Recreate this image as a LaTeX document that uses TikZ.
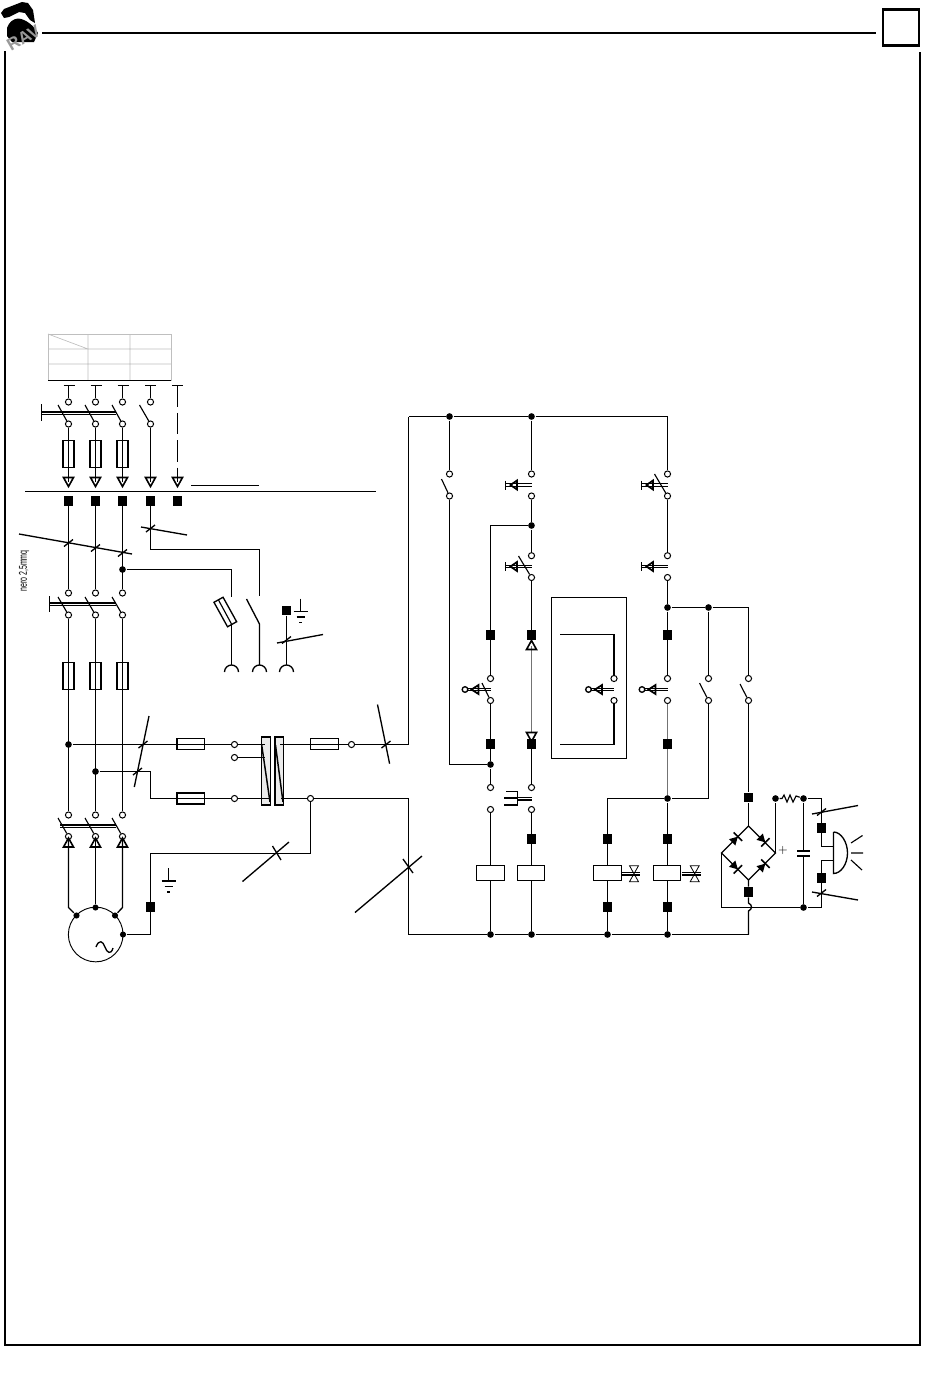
\documentclass[tikz,border=0pt]{standalone}
\usepackage{fontspec}
\setsansfont{Liberation Sans}
\usetikzlibrary{positioning}
\tikzset{
pics/btnbar/.style = {code = {
  \draw (-26,-1.2) -- (0,-1.2) (-26,1.2) -- (0,1.2) (-26,-4.5) -- (-26,4.5);
  \draw[line width = 1.3pt] (-14.5,-4.5) -- (-21,0) -- (-14.5,4.5) -- cycle;}},
pics/btncirc/.style = {code = {
  \draw (-23,-1.2) -- (0,-1.2) (-23,1.2) -- (0,1.2);
  \draw[fill = white] (-25.5,0) circle (2.8);
  \draw[line width = 1.3pt] (-12,-4.5) -- (-19,0) -- (-12,4.5) -- cycle;}},
pics/earth/.style = {code = {
  \draw (0,-13) -- (0,0) (-7,0) -- (7,0) (-4,5.5) -- (4,5.5) (-1.5,11) -- (1.5,11);}},
pics/valve/.style = {code = {
  \draw (-13,-1.2) -- (6,-1.2) (-13,1.2) -- (6,1.2);
  \draw[line width = .6pt] (-4.5,-8) -- (4.5,-8) -- (-4.5,8) -- (4.5,8) -- cycle;}},
pics/diode/.style = {code = {
  \fill (-4,-4.5) -- (4,0) -- (-4,4.5) -- cycle;
  \draw[line width = 1.2pt] (4,-6) -- (4,6);}},
pics/arrowdown/.style = {code = {
  \draw[line width = 1.2pt] (-5,-4.5) -- (5,-4.5) -- (0,4.5) -- cycle;}},
pics/arrowup/.style = {code = {
  \draw[line width = 1.2pt] (-5,4.5) -- (5,4.5) -- (0,-4.5) -- cycle;}}
}
\begin{document}
\begin{tikzpicture}[x = .75pt, y = -.75pt, line width = 1pt,
term/.style = { circle, draw, fill = white, inner sep = 0pt, line width = .75pt, minimum size = 4.6pt },
blob/.style = { circle, fill = black, inner sep = 0pt, minimum size = 5pt },
sq/.style = { rectangle, fill = black, inner sep = 0pt, minimum size = 6.9pt },
fusev/.style = { rectangle, draw, inner sep = 0pt, minimum width = 8.4pt, minimum height = 20.6pt },
fuseh/.style = { rectangle, draw, inner sep = 0pt, minimum width = 20.6pt, minimum height = 8.4pt },
coil/.style = { rectangle, draw, fill = white, inner sep = 0pt, minimum width = 20.6pt, minimum height = 10.8pt },
contact/.style = { rectangle, draw, fill = black!8, inner sep = 0pt, minimum width = 6.4pt, minimum height = 51pt },
blade/.style = { line width = .85pt },
gridline/.style = { color = black!25, line width = .5pt },
greywire/.style = { color = black!55, line width = 1.15pt },
frameline/.style = { line width = 1.6pt }]
\useasboundingbox (0,0) rectangle (950,1378);
% header and frame
\draw[frameline] (42,33) -- (876,33);
\node[rectangle, draw, line width = 2.2pt, inner sep = 0pt, minimum size = 27pt] (pagebox) at (901,27.5) {};
\draw[frameline] (920,52) -- (920,1345) -- (5,1345) -- (5,51);
\fill (1,13) -- (4,9) -- (22,2) -- (28,3) -- (33,10) -- (35,23) -- (30,20) -- (25,13) -- (19,12) -- (9,17) -- (4,18) -- cycle;
\fill (7,36) -- (7,28) .. controls (9,22) and (13,19) .. (18,18.5) .. controls (26,19) and (34,26) .. (38,33) -- (34,42) -- (12,42) -- cycle;
\node[rotate = 30, font = \sffamily\bfseries\fontsize{13}{13}\selectfont, text = black!40, inner sep = 0pt] (logotext) at (23.5,38) {RAV};
% top table
\draw[gridline] (48,334) rectangle (171,380);
\draw[gridline] (48,349) -- (171,349) (48,364) -- (171,364) (88,334) -- (88,380) (130,334) -- (130,380) (48,334) -- (88,349);
\draw (48,380.5) -- (171,380.5);
\draw (25,491.5) -- (376,491.5);
\draw (191,485.5) -- (259,485.5);
% line 1 and line 2 phases
\foreach \x/\n in {68.5/a,95.5/b,122.5/c} {
\node[term] (up\n) at (\x,402) {};
\node[term] (uq\n) at (\x,424) {};
\node[fusev] (uf\n) at (\x,454) {};
\coordinate (ua\n) at (\x,482);
\node[sq] (us\n) at (\x,501) {};
\node[term] (mp\n) at (\x,593) {};
\node[term] (mq\n) at (\x,615) {};
\node[fusev] (mf\n) at (\x,676) {};
\node[term] (lp\n) at (\x,815) {};
\node[term] (lq\n) at (\x,836.5) {};
\coordinate (la\n) at (\x,842.5);
\draw (\x-5,385.5) -- (\x+6,385.5);
\draw (\x,385.5) -- (up\n);
\draw (uq\n) -- (ua\n);
\pic at (ua\n) {arrowdown};
\draw (us\n) -- (mp\n);
\draw (mq\n) -- (lp\n);
\draw[blade] (\x-10.5,405) -- (uq\n);
\draw[blade] (\x-10.5,597) -- (mq\n);
\draw[blade] (\x-10.5,818) -- (lq\n);
\pic at (la\n) {arrowup};
}
% fourth and fifth pole
\node[term] (upd) at (150.5,402) {};
\node[term] (uqd) at (150.5,424) {};
\coordinate (uad) at (150.5,482);
\node[sq] (usd) at (150.5,501) {};
\draw (145,385.5) -- (156,385.5) (150.5,385.5) -- (upd);
\draw (uqd) -- (uad);
\draw[blade] (139.5,405) -- (uqd);
\pic at (uad) {arrowdown};
\coordinate (uae) at (177.5,482);
\node[sq] (use) at (177.5,501) {};
\draw (172,385.5) -- (183,385.5);
\draw[dash pattern = on 16pt off 4.5pt] (177.5,385.5) -- (uae);
\pic at (uae) {arrowdown};
% ganged bars
\draw (41.5,404) -- (41.5,421) (41.5,412) -- (116,412) (41.5,414.5) -- (116,414.5);
\draw (49.5,596) -- (49.5,612) (49.5,603) -- (116,603) (49.5,605.5) -- (116,605.5);
\draw (60,825) -- (116,825) (60,827.5) -- (116,827.5);
% sense wires
\draw (19,534) -- (132,554);
\draw (141,527) -- (187,535);
\foreach \x/\y in {68.5/543,95.5/548,122.5/553,150.5/528.5,143/744.5,137.5/771.5,286.5/640,821.5/812,821.5/893,386/744.5} {
\draw (\x-4.5,\y+3.5) -- (\x+4.5,\y-3.5);
}
\node[rotate = 90, font = \sffamily\fontsize{8.5}{8.5}\selectfont, inner sep = 0pt] (wirelabel) at (24,571) {\scalebox{.62}[1]{nero 2,5mmq}};
\node[blob] (jc) at (122.5,569.5) {};
\coordinate (pa) at (231.5,597);
\coordinate (pb) at (259.5,596);
\draw (jc) -- (pa |- jc) -- (pa);
\draw (usd) -- (150.5,549.5) -- (259.5,549.5) -- (pb);
% socket group
\node[rectangle, draw, rotate = 29, inner sep = 0pt, minimum width = 7.8pt, minimum height = 21pt] (sockfuse) at (225.3,612) {};
\draw[blade] (218.5,600) -- (231.5,624);
\coordinate (sa) at (231.5,665);
\coordinate (sb) at (259.5,665);
\coordinate (sc) at (286.5,665);
\draw (231.5,624) -- (sa);
\draw (246.5,599) -- (259.5,624) -- (sb);
\node[sq] (se) at (286.5,610.5) {};
\draw (se) -- (sc);
\draw (277,643) -- (323,634.5);
\pic at (300.5,611.5) {earth};
\foreach \c in {sa,sb,sc} {
\draw ([xshift = -5.25pt, yshift = -5.25pt]\c) arc[start angle = 180, end angle = 360, radius = 7];
}
% supply to contactor
\node[blob] (ja) at (68.5,744.5) {};
\node[blob] (jb) at (95.5,771.5) {};
\node[fuseh] (fa) at (190.7,744) {};
\node[fuseh] (fb) at (190.7,798.5) {};
\node[term] (ca) at (234.5,744.5) {};
\node[term] (cb) at (234.5,757.5) {};
\node[term] (cc) at (234.5,798.5) {};
\node[contact] (kma) at (266,771) {};
\node[contact] (kmb) at (279.4,771) {};
\draw (ja) -- (ca);
\draw (ca) -- (265,744.5);
\draw (cb) -- (265,757.5);
\draw (jb) -- (150.5,771.5) -- (150.5,798.5) -- (cc);
\draw (cc) -- (270,798.5);
\draw (149,716) -- (134.3,787);
\draw[line width = 1.1pt] (261.7,745) -- (270,802);
\draw[line width = 1.1pt] (275.5,745) -- (283,802);
\node[fuseh] (fc) at (324.5,744) {};
\node[term] (cd) at (351.5,744.5) {};
\node[term] (ce) at (310.5,798.5) {};
\draw (280,744.5) -- (cd);
\draw (cd) -- (408.5,744.5) -- (408.5,416.5);
\draw (281,798.5) -- (ce);
\draw (ce) -- (408.5,798.5) -- (408.5,934.5);
\draw (377.5,704.5) -- (389.6,763.7);
% generator
\node[circle, draw, inner sep = 0pt, minimum size = 41pt, line width = .7pt] (gen) at (95.7,934.5) {};
\node[blob, minimum size = 4.6pt] (ga) at (76.5,915.5) {};
\node[blob, minimum size = 4.6pt] (gb) at (95.5,907.5) {};
\node[blob, minimum size = 4.6pt] (gc) at (115,915.5) {};
\node[blob, minimum size = 4.6pt] (gd) at (123,934.5) {};
\draw (lqa) -- (68.5,907.5) -- (ga);
\draw (lqb) -- (gb);
\draw (lqc) -- (122.5,907.5) -- (gc);
\node[sq] (sg) at (150.5,907) {};
\draw (gd) -- (150.5,934.5) -- (sg);
\draw (sg) -- (150.5,853.5) -- (310.5,853.5) -- (ce);
\draw (96,947) .. controls (99,939) and (103,941) .. (105,947) .. controls (107,953) and (111,955) .. (113,948);
\draw (242.5,881.5) -- (289,842);
\draw (272.5,846) -- (281,860);
\draw (355,912.5) -- (422,856);
\draw (403,859) -- (413,873);
\pic at (168.5,881) {earth};
% control rail
\node[blob] (ra) at (449.5,416.5) {};
\node[blob] (rb) at (531.5,416.5) {};
\draw (408.5,416.5) -- (ra) -- (rb) -- (667.5,416.5);
\node[term] (pa1) at (449.5,474) {};
\node[term] (pa2) at (449.5,496) {};
\node[blob] (rc) at (490.5,764.5) {};
\draw (ra) -- (pa1);
\draw[blade] (441.5,479) -- (pa2);
\draw (pa2) -- (449.5,764.5) -- (rc);
\node[term] (pb1) at (531.5,474) {};
\node[term] (pb2) at (531.5,496) {};
\node[blob] (rd) at (531.5,525.5) {};
\node[term] (pb3) at (531.5,555.7) {};
\node[term] (pb4) at (531.5,577.5) {};
\node[sq] (sb1) at (531.5,635) {};
\node[sq] (sb2) at (531.5,744) {};
\node[term] (pb5) at (531.5,787.5) {};
\node[term] (pb6) at (531.5,809.5) {};
\node[sq] (sb3) at (531.5,839) {};
\node[coil, minimum width = 20.2pt] (kb) at (531,873) {};
\node[blob] (eb) at (531.5,934.5) {};
\draw (rb) -- (pb1) (pb2) -- (rd) -- (pb3) (pb4) -- (sb1);
\draw[blade] (518.5,556) -- (pb4);
\pic at (531.5,485) {btnbar};
\pic at (531.5,566.5) {btnbar};
\draw[greywire] (531.5,646) -- (531.5,733);
\pic at (531.5,645) {arrowup};
\pic at (531.5,737) {arrowdown};
\draw (sb2) -- (pb5) (pb6) -- (sb3) -- (531.5,866) (531.5,880) -- (eb);
\draw (517.5,797.5) -- (531.5,797.5) (517.5,800) -- (531.5,800);
\draw (506,791.5) -- (517.5,791.5) -- (517.5,805) -- (504,805) (504,798) -- (517.5,798);
% holding column
\node[sq] (sa1) at (490.5,635) {};
\node[term] (pc1) at (490.5,678.5) {};
\node[term] (pc2) at (490.5,700.5) {};
\node[sq] (sa2) at (490.5,744) {};
\node[term] (pc3) at (490.5,787.5) {};
\node[term] (pc4) at (490.5,809.5) {};
\node[coil] (ka) at (490.5,873) {};
\node[blob] (ea) at (490.5,934.5) {};
\draw (rd) -- (490.5,525.5) -- (sa1) -- (pc1) (pc2) -- (sa2) -- (rc) -- (pc3) (pc4) -- (ka) -- (ea);
\draw[blade] (482,683) -- (pc2);
\pic at (490.5,689.5) {btncirc};
% boxed remote button
\node[rectangle, draw, inner sep = 0pt, minimum width = 56.3pt, minimum height = 120.8pt] (remote) at (589.2,677.8) {};
\node[term] (pd1) at (614,678.5) {};
\node[term] (pd2) at (614,700.5) {};
\draw (560,634.5) -- (614,634.5) -- (pd1);
\draw (pd2) -- (614,744.5) -- (560,744.5);
\pic at (614,689.5) {btncirc};
% right column
\node[term] (pe1) at (667.5,474) {};
\node[term] (pe2) at (667.5,496) {};
\node[term] (pe3) at (667.5,555.7) {};
\node[term] (pe4) at (667.5,577.5) {};
\node[blob] (re) at (667.5,607.5) {};
\node[sq] (se1) at (667.5,635) {};
\node[term] (pe5) at (667.5,678.5) {};
\node[term] (pe6) at (667.5,700.5) {};
\node[sq] (se2) at (667.5,744) {};
\node[blob] (rf) at (667.5,798.5) {};
\node[sq] (se3) at (667.5,839) {};
\node[coil] (kc) at (667,873) {};
\node[sq] (se4) at (667.5,907) {};
\node[blob] (ec) at (667.5,934.5) {};
\draw (667.5,416.5) -- (pe1) (pe2) -- (pe3) (pe4) -- (re) -- (se1) -- (pe5);
\draw[blade] (654.5,474) -- (pe2);
\pic at (667.5,485) {btnbar};
\pic at (667.5,566.5) {btnbar};
\pic at (667.5,689.5) {btncirc};
\draw[greywire] (pe6) -- (se2);
\draw[greywire] (se2) -- (rf);
\draw (rf) -- (se3) -- (667.5,866) (667.5,880) -- (se4) -- (ec);
\pic at (694.7,873.7) {valve};
% valve column
\node[sq] (sd1) at (607.5,839) {};
\node[coil] (kd) at (607.5,873) {};
\node[sq] (sd2) at (607.5,907) {};
\node[blob] (ed) at (607.5,934.5) {};
\draw (rf) -- (607.5,798.5) -- (sd1) -- (kd) -- (sd2) -- (ed);
\pic at (634,873.7) {valve};
% bottom rail
\draw (408.5,934.5) -- (ea) -- (eb) -- (ed) -- (ec) -- (748.5,934.5);
% branches to bridge
\node[blob] (rg) at (708.5,607.5) {};
\node[term] (pf1) at (708.5,678.5) {};
\node[term] (pf2) at (708.5,700.5) {};
\node[term] (pg1) at (748.5,678.5) {};
\node[term] (pg2) at (748.5,700.5) {};
\node[sq] (sh1) at (748.5,797.5) {};
\draw (re) -- (rg) -- (748.5,607.5) -- (pg1);
\draw (rg) -- (pf1);
\draw (pf2) -- (708.5,798.5) -- (rf);
\draw[blade] (699.5,683) -- (pf2);
\draw[blade] (740,684) -- (pg2);
\draw (pg2) -- (sh1);
% bridge
\coordinate (bt) at (748.5,826);
\coordinate (bl) at (721.5,853);
\coordinate (br) at (775.5,853);
\coordinate (bb) at (748.5,880);
\node[sq] (sh2) at (748.5,892) {};
\coordinate (hump) at (748.5,903);
\draw (sh1) -- (bt);
\draw (bt) -- (br) -- (bb) -- (bl) -- cycle;
\draw (bb) -- (sh2) -- (hump) .. controls (752.5,905) and (752.5,909) .. (748.5,911) -- (748.5,934.5);
\pic[rotate = 45] at (735,839.5) {diode};
\pic[rotate = -45] at (762.5,839.5) {diode};
\pic[rotate = -45] at (735,866.5) {diode};
\pic[rotate = 45] at (762.5,866.5) {diode};
% output stage
\node[blob] (rh) at (775.5,798.5) {};
\node[blob] (ri) at (803.5,798.5) {};
\node[blob] (rj) at (803.5,907.5) {};
\node[sq] (sk1) at (821.5,828) {};
\node[sq] (sk2) at (821.5,878) {};
\coordinate (horntop) at (833.5,846.5);
\coordinate (hornlow) at (833.5,860.5);
\draw (br) -- (rh);
\draw[blade] (rh) -- (782,798.5) -- (784,795) -- (787,802) -- (790,795) -- (793,802) -- (796,796) -- (ri);
\draw (ri) -- (821.5,798.5) -- (sk1) -- (821.5,846.5) -- (horntop);
\draw (hornlow) -- (821.5,860.5) -- (sk2) -- (821.5,907.5) -- (rj);
\draw (rj) -- (bl |- rj) -- (bl);
\draw (ri) -- (803.5,851) (797,851) -- (810,851) (797,856) -- (810,856) (803.5,856) -- (rj);
\node[inner sep = 0pt, font = \fontsize{9}{9}\selectfont] (plus) at (783,850.5) {+};
\draw (812,814) -- (858,805.5);
\draw (812,892) -- (858,900);
\draw (833.5,832) -- (833.5,873.5) .. controls (841,873.5) and (847.5,864) .. (847.5,853) .. controls (847.5,842) and (841,832) .. (833.5,832);
\draw[blade] (851,843) -- (862.5,835.5) (851,853) -- (863,853) (851,860) -- (862,870);
\end{tikzpicture}
\end{document}
